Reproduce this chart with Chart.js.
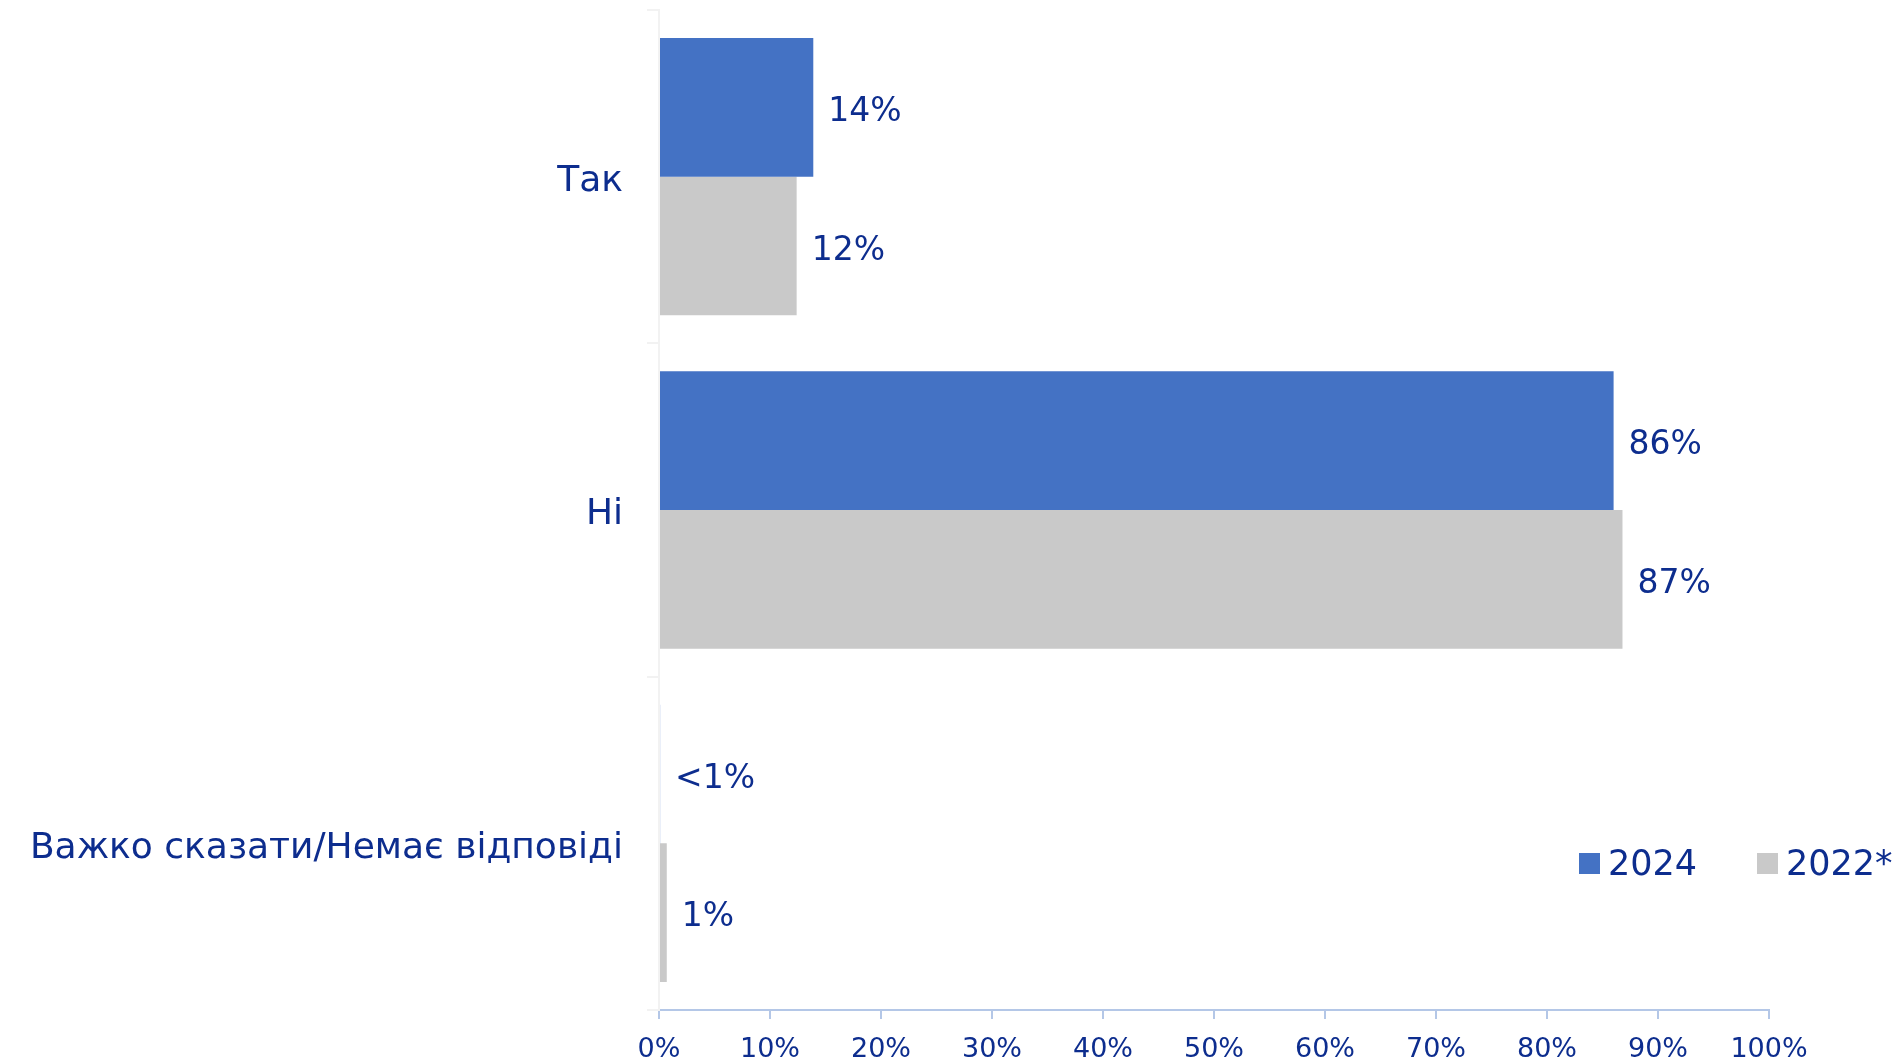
<!DOCTYPE html>
<html>
<head>
<meta charset="utf-8">
<script src="https://cdn.jsdelivr.net/npm/chart.js@4"></script>
<style>
  html, body { margin: 0; padding: 0; background: #ffffff; }
  #wrap { position: relative; width: 1901px; height: 1063px; }
  #c { display: block; }
  .leg { position: absolute; top: 843px; display: flex; align-items: center; font-family: 'DejaVu Sans', sans-serif; font-size: 35px; color: #0d2d8e; }
  .leg span.sw { display: inline-block; width: 21px; height: 21px; margin-right: 8px; }
</style>
</head>
<body>
<div id="wrap">
  <canvas id="c" width="1901" height="1063"></canvas>
  <div class="leg" style="left:1579px;"><span class="sw" style="background:#4472c4"></span>2024</div>
  <div class="leg" style="left:1757px;"><span class="sw" style="background:#c9c9c9"></span>2022*</div>
</div>
<script>
const categories = ['Так', 'Ні', 'Важко сказати/Немає відповіді'];
const seriesNames = ['2024', '2022*'];
const values2024 = [13.9, 86.0, 0.1];
const values2022 = [12.4, 86.8, 0.7];
const labels2024 = ['14%', '86%', '<1%'];
const labels2022 = ['12%', '87%', '1%'];
const xTicks = [0, 10, 20, 30, 40, 50, 60, 70, 80, 90, 100];

const textColor = '#0d2d8e';
const fontFamily = "'DejaVu Sans', sans-serif";

const valueLabelPlugin = {
  id: 'valueLabels',
  afterDatasetsDraw(chart) {
    const ctx = chart.ctx;
    const texts = [labels2024, labels2022];
    ctx.save();
    ctx.fillStyle = textColor;
    ctx.font = '33px ' + fontFamily;
    ctx.textAlign = 'left';
    ctx.textBaseline = 'middle';
    chart.data.datasets.forEach((ds, di) => {
      const meta = chart.getDatasetMeta(di);
      meta.data.forEach((bar, i) => {
        ctx.fillText(texts[di][i], bar.x + 15, bar.y + 5);
      });
    });
    ctx.restore();
  }
};

new Chart(document.getElementById('c'), {
  type: 'bar',
  data: {
    labels: categories,
    datasets: [
      { label: seriesNames[0], data: values2024, backgroundColor: '#4472c4', borderWidth: 0 },
      { label: seriesNames[1], data: values2022, backgroundColor: '#c9c9c9', borderWidth: 0 }
    ]
  },
  options: {
    indexAxis: 'y',
    responsive: false,
    animation: false,
    devicePixelRatio: 1,
    layout: { padding: { left: 0, top: 10, right: 132, bottom: 0 } },
    categoryPercentage: 0.832,
    barPercentage: 1.0,
    plugins: {
      legend: { display: false },
      tooltip: { enabled: false }
    },
    scales: {
      x: {
        min: 0, max: 100,
        afterBuildTicks: (scale) => { scale.ticks = xTicks.map(v => ({ value: v })); },
        afterFit: (scale) => { scale.height = 53; },
        border: { display: true, color: '#b4c7e7', width: 2 },
        grid: { drawOnChartArea: false, drawTicks: true, tickLength: 9, color: '#b4c7e7', lineWidth: 2 },
        ticks: {
          color: textColor,
          font: { family: fontFamily, size: 27 },
          padding: 15,
          maxRotation: 0,
          callback: (v) => v + '%'
        }
      },
      y: {
        afterFit: (scale) => { scale.width = 659; scale.paddingTop = 0; scale.paddingBottom = 0; },
        border: { display: true, color: '#f2f2f2', width: 2 },
        grid: { drawOnChartArea: false, drawTicks: true, tickLength: 12, color: '#f2f2f2', lineWidth: 2 },
        ticks: {
          color: textColor,
          font: { family: fontFamily, size: 36 },
          padding: 24,
          labelOffset: 5
        }
      }
    }
  },
  plugins: [valueLabelPlugin]
});
</script>
</body>
</html>
